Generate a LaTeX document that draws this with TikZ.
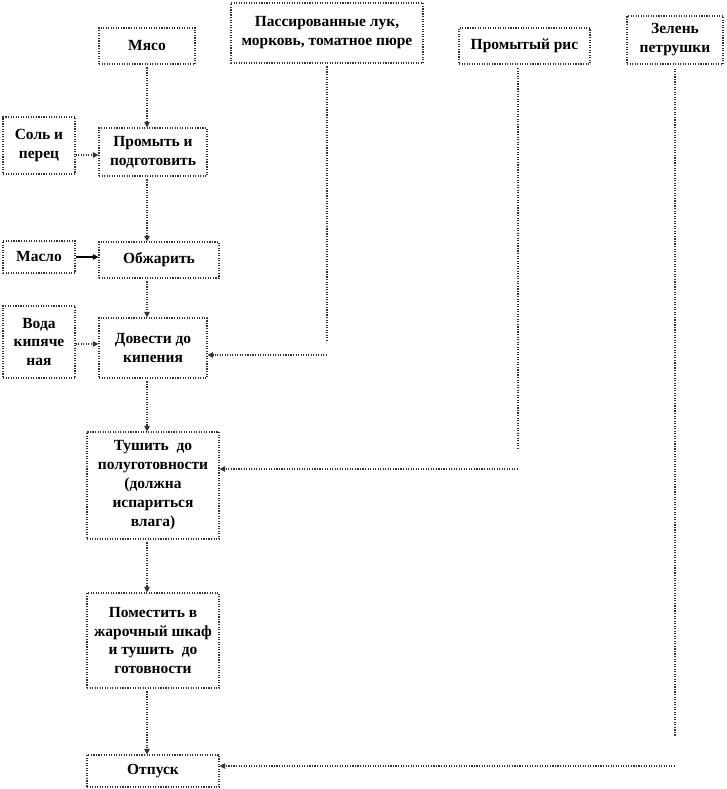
\documentclass[tikz,border=0pt]{standalone}
\usepackage{fontspec}
\setmainfont{Liberation Serif}
\usepackage{xcolor}
\definecolor{stepLine}{HTML}{333333}
\definecolor{stepText}{HTML}{000000}
\usetikzlibrary{arrows.meta}
\tikzset{
  stepbox/.style={rectangle, draw=stepLine, densely dotted, line width=0.8pt, align=center,
    inner sep=1pt, text=stepText, font=\fontsize{11}{13.5}\selectfont\bfseries},
  flow/.style={draw=stepLine, densely dotted, line width=0.8pt, -{Triangle[length=4pt,width=4pt]}},
  feed/.style={draw=stepLine, densely dotted, line width=0.8pt}
}

\begin{document}
\begin{tikzpicture}[x=0.025cm, y=-0.025cm]
  \useasboundingbox (0,0) rectangle (726,789);
  % main chain
  \node[stepbox, minimum width=2.4cm, minimum height=0.9cm] (myaso) at (147,46) {Мясо};
  \node[stepbox, minimum width=2.7cm, minimum height=1.2cm] (promyt) at (153,152) {Промыть и\\подготовить};
  \node[stepbox, minimum width=3.0cm, minimum height=0.9cm] (obzh) at (159,260) {Обжарить};
  \node[stepbox, minimum width=2.7cm, minimum height=1.5cm] (dovesti) at (153,348) {Довести до\\кипения};
  \node[stepbox, minimum width=3.3cm, minimum height=2.675cm] (tushit) at (153,485.5) {Тушить \ до\\полуготовности\\(должна\\испариться\\влага)};
  \node[stepbox, minimum width=3.3cm, minimum height=2.375cm] (pomest) at (153,640.5) {Поместить в\\жарочный шкаф\\и тушить \ до\\готовности};
  \node[stepbox, minimum width=3.3cm, minimum height=0.8cm] (otpusk) at (153,771) {Отпуск};
  % left inputs
  \node[stepbox, minimum width=1.8cm, minimum height=1.425cm] (sol) at (39,145.5) {Соль и\\перец};
  \node[stepbox, minimum width=1.8cm, minimum height=0.8cm] (maslo) at (39,257) {Масло};
  \node[stepbox, minimum width=1.8cm, minimum height=1.8cm] (voda) at (39,342) {Вода\\кипяче\\ная};
  % top inputs
  \node[stepbox, minimum width=4.8cm, minimum height=1.5cm] (passer) at (327,33) {Пассированные лук,\\морковь, томатное пюре};
  \node[stepbox, minimum width=3.275cm, minimum height=0.9cm] (ris) at (524.5,46) {Промытый рис};
  \node[stepbox, minimum width=2.4cm, minimum height=1.2cm] (zelen) at (675,40) {Зелень\\петрушки};
  % down the chain
  \draw[flow, shorten <=2pt] (myaso.south) -- (myaso.south |- promyt.north);
  \draw[flow, shorten <=2pt] (myaso.south |- promyt.south) -- (myaso.south |- obzh.north);
  \draw[flow, shorten <=2pt] (myaso.south |- obzh.south) -- (myaso.south |- dovesti.north);
  \draw[flow, shorten <=2pt] (myaso.south |- dovesti.south) -- (myaso.south |- tushit.north);
  \draw[flow, shorten <=2pt] (myaso.south |- tushit.south) -- (myaso.south |- pomest.north);
  \draw[flow, shorten <=2pt] (myaso.south |- pomest.south) -- (myaso.south |- otpusk.north);
  % from the left
  \draw[flow] (sol.east |- 0,155) -- (promyt.west |- 0,155);
  \draw[flow, solid, draw=black] (maslo.east) -- (maslo.east -| obzh.west);
  \draw[flow] (voda.east |- 0,344) -- (dovesti.west |- 0,344);
  % from the top
  \coordinate (pdown) at (327,342);
  \coordinate (pturn) at (327,355);
  \draw[feed, shorten <=2pt] (passer.south) -- (pdown);
  \draw[flow] (pturn) -- (pturn -| dovesti.east);
  \coordinate (rtop) at (518,64);
  \coordinate (rdown) at (518,450);
  \coordinate (rturn) at (518,469);
  \draw[feed, shorten <=3pt] (rtop) -- (rdown);
  \draw[flow] (rturn) -- (rturn -| tushit.east);
  \coordinate (zdown) at (675,737);
  \coordinate (zturn) at (675,766);
  \draw[feed, shorten <=3pt] (zelen.south) -- (zdown);
  \draw[flow] (zturn) -- (zturn -| otpusk.east);
\end{tikzpicture}
\end{document}
